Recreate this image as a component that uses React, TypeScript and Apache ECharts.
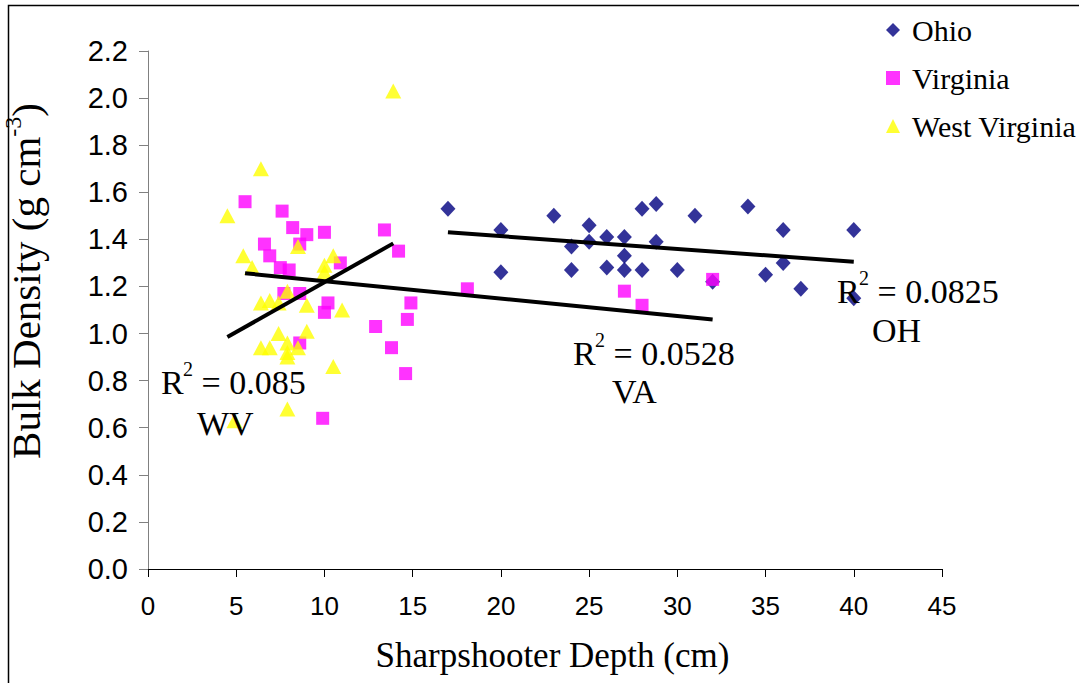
import React, { useEffect, useRef } from "react";
import * as echarts from "echarts";

// Sharpshooter depth (cm) vs bulk density (g cm-3)
const ohioData: [number, number][] = [
  [17, 1.53], [20, 1.44], [20, 1.26], [23, 1.5], [24, 1.37], [24, 1.27],
  [25, 1.46], [25, 1.39], [26, 1.41], [26, 1.28], [27, 1.41], [27, 1.33],
  [27, 1.27], [28, 1.53], [28, 1.27], [28.8, 1.55], [28.8, 1.39], [30, 1.27],
  [31, 1.5], [32, 1.22], [34, 1.54], [35, 1.25], [36, 1.44], [36, 1.3],
  [37, 1.19], [40, 1.44], [40, 1.15],
];

const virginiaData: [number, number][] = [
  [5.5, 1.56], [7.6, 1.52], [8.2, 1.45], [9.0, 1.42], [10.0, 1.43], [13.4, 1.44],
  [14.2, 1.35], [6.6, 1.38], [6.9, 1.33], [8.6, 1.38], [7.5, 1.28], [8.0, 1.27],
  [10.9, 1.3], [14.9, 1.13], [7.7, 1.17], [8.6, 1.17], [10.2, 1.13], [10.0, 1.09],
  [14.7, 1.06], [12.9, 1.03], [13.8, 0.94], [8.6, 0.96], [14.6, 0.83], [9.9, 0.64],
  [18.1, 1.19], [27, 1.18], [32, 1.23], [28, 1.12],
];

const westVirginiaData: [number, number][] = [
  [4.5, 1.5], [6.4, 1.7], [13.9, 2.03], [8.5, 1.37], [5.4, 1.33], [5.9, 1.28],
  [10.5, 1.33], [10.0, 1.29], [10.0, 1.26], [7.9, 1.18], [6.4, 1.13], [6.9, 1.14],
  [7.4, 1.13], [9.0, 1.12], [11.0, 1.1], [7.4, 1.0], [9.0, 1.01], [6.4, 0.94],
  [6.9, 0.94], [7.9, 0.96], [8.5, 0.94], [7.9, 0.92], [7.9, 0.9], [10.5, 0.86],
  [7.9, 0.68], [4.9, 0.63],
];

// Linear trend lines (endpoints)
const ohioTrend: [number, number][] = [[17, 1.43], [40, 1.305]];
const virginiaTrend: [number, number][] = [[5.5, 1.256], [32, 1.06]];
const westVirginiaTrend: [number, number][] = [[4.5, 0.985], [13.9, 1.383]];

const seriesNames = ["Ohio", "Virginia", "West Virginia"];
const r2Labels = ["0.0825", "0.0528", "0.085"];
const stateCodes = ["OH", "VA", "WV"];

const xTicks = { min: 0, max: 45, interval: 5 };
const yTicks = { min: 0, max: 2.2, interval: 0.2 };

const SERIF = '"Liberation Serif", "Times New Roman", Times, serif';
const SANS = '"Liberation Sans", Arial, Helvetica, sans-serif';

function txt(x: number, y: number, text: string, fontSize: number) {
  return {
    type: "text",
    x,
    y,
    z: 100,
    style: {
      text,
      fontSize,
      fontFamily: SERIF,
      fill: "#000",
      align: "left",
      verticalAlign: "middle",
    },
  };
}

// R² annotation: "R", superscript "2", then " = value"
function r2Group(x: number, y: number, value: string) {
  return {
    type: "group",
    children: [
      txt(x, y, "R", 34),
      txt(x + 22, y - 13, "2", 20),
      txt(x + 32, y, " = " + value, 34),
    ],
  };
}

export default function App() {
  const ref = useRef<HTMLDivElement>(null);

  useEffect(() => {
    if (!ref.current) return;
    const chart = echarts.init(ref.current, null, { renderer: "svg" });
    const option = {
      animation: false,
      backgroundColor: "#ffffff",
      grid: {
        left: 148,
        right: 137,
        top: 51,
        bottom: 114,
        containLabel: false,
        outerBoundsMode: "none",
      },
      legend: {
        data: seriesNames,
        orient: "vertical",
        left: 881,
        top: 10,
        itemWidth: 14,
        itemHeight: 14,
        itemGap: 18,
        textStyle: {
          fontSize: 30,
          fontFamily: SERIF,
          color: "#000",
          padding: [0, 0, 0, 7],
        },
      },
      xAxis: {
        type: "value",
        min: xTicks.min,
        max: xTicks.max,
        interval: xTicks.interval,
        name: "Sharpshooter Depth (cm)",
        nameLocation: "middle",
        nameGap: 69,
        nameTextStyle: {
          fontSize: 35,
          fontFamily: SERIF,
          color: "#000",
          padding: [0, 0, 0, 15],
        },
        axisLine: { show: true, onZero: false, lineStyle: { color: "#000", width: 1 } },
        axisTick: { show: true, length: 8, lineStyle: { color: "#000", width: 1 } },
        axisLabel: { fontSize: 26, fontFamily: SANS, color: "#000", margin: 24 },
        splitLine: { show: false },
      },
      yAxis: {
        type: "value",
        min: yTicks.min,
        max: yTicks.max,
        interval: yTicks.interval,
        name: "Bulk Density (g cm{sup|-3})",
        nameLocation: "middle",
        nameGap: 97,
        nameTextStyle: {
          fontSize: 41,
          fontFamily: SERIF,
          color: "#000",
          lineHeight: 50,
          padding: [0, 0, 0, 58],
          rich: {
            sup: { fontSize: 24, fontFamily: SERIF, color: "#000", lineHeight: 24, verticalAlign: "top" },
          },
        },
        axisLine: { show: true, onZero: false, lineStyle: { color: "#808080", width: 1 } },
        axisTick: { show: true, length: 9, lineStyle: { color: "#808080", width: 1 } },
        axisLabel: {
          fontSize: 29,
          fontFamily: SANS,
          color: "#000",
          margin: 20,
          formatter: (v: number) => v.toFixed(1),
        },
        splitLine: { show: false },
      },
      series: [
        {
          name: seriesNames[0],
          type: "scatter",
          symbol: "diamond",
          symbolSize: [15, 16],
          itemStyle: { color: "#000080" },
          data: ohioData,
          z: 2,
        },
        {
          name: seriesNames[1],
          type: "scatter",
          symbol: "rect",
          symbolSize: 13,
          itemStyle: { color: "#ff00ff" },
          data: virginiaData,
          z: 3,
        },
        {
          name: seriesNames[2],
          type: "scatter",
          symbol: "triangle",
          symbolSize: [16, 15],
          itemStyle: { color: "#ffff00" },
          data: westVirginiaData,
          z: 4,
        },
        {
          name: "OH trend",
          type: "line",
          data: ohioTrend,
          showSymbol: false,
          symbol: "none",
          lineStyle: { color: "#000", width: 4 },
          z: 5,
        },
        {
          name: "VA trend",
          type: "line",
          data: virginiaTrend,
          showSymbol: false,
          symbol: "none",
          lineStyle: { color: "#000", width: 4 },
          z: 5,
        },
        {
          name: "WV trend",
          type: "line",
          data: westVirginiaTrend,
          showSymbol: false,
          symbol: "none",
          lineStyle: { color: "#000", width: 4 },
          z: 5,
        },
      ],
      graphic: [
        {
          type: "polyline",
          z: 100,
          shape: { points: [[8.5, 690], [8.5, 5.5], [1090, 5.5]] },
          style: { stroke: "#000", lineWidth: 1.5, fill: "none" },
        },
        r2Group(837, 291, r2Labels[0]),
        txt(872, 330, stateCodes[0], 34),
        r2Group(573, 353, r2Labels[1]),
        txt(612, 391, stateCodes[1], 34),
        r2Group(161, 382, r2Labels[2]),
        txt(197, 423, stateCodes[2], 34),
      ],
    };
    chart.setOption(option as any);
    return () => chart.dispose();
  }, []);

  return (
    <div
      ref={ref}
      style={{ position: "absolute", left: 0, top: 0, width: 1079, height: 683, background: "#fff" }}
    />
  );
}
